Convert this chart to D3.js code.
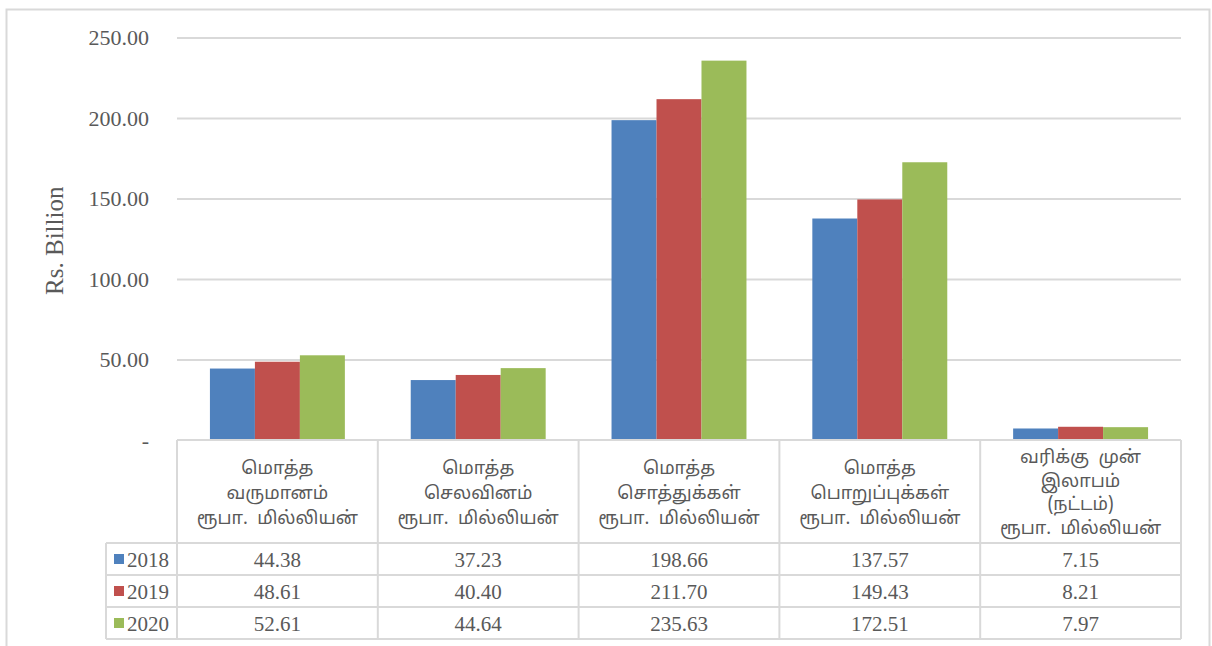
<!DOCTYPE html>
<html>
<head>
<meta charset="utf-8">
<script src="https://cdn.jsdelivr.net/npm/d3@7"></script>
<style>
  html, body { margin: 0; padding: 0; background: #fff; }
  svg { display: block; }
</style>
</head>
<body>
<svg id="chart" width="1212" height="646"></svg>
<script>
// Category labels (multi-line headers of the data table)
const categories = [
  ["மொத்த", "வருமானம்", "ரூபா.  மில்லியன்"],
  ["மொத்த", "செலவினம்", "ரூபா.  மில்லியன்"],
  ["மொத்த", "சொத்துக்கள்", "ரூபா.  மில்லியன்"],
  ["மொத்த", "பொறுப்புக்கள்", "ரூபா.  மில்லியன்"],
  ["வரிக்கு  முன்", "இலாபம்", "(நட்டம்)", "ரூபா.  மில்லியன்"]
];
const years = ["2018", "2019", "2020"];
const values2018 = [44.38, 37.23, 198.66, 137.57, 7.15];
const values2019 = [48.61, 40.40, 211.70, 149.43, 8.21];
const values2020 = [52.61, 44.64, 235.63, 172.51, 7.97];
const yTicks = [0, 50, 100, 150, 200, 250];
const yTitle = "Rs. Billion";

const seriesValues = [values2018, values2019, values2020];
const colors = ["#4F81BD", "#C0504D", "#9BBB59"];
const textColor = "#595959";
const lineColor = "#D9D9D9";
const serif = "'Liberation Serif', 'Times New Roman', serif";
const tamil = "'Noto Sans Tamil', 'Latha', 'Lohit Tamil', 'Noto Sans', sans-serif";

const svg = d3.select("#chart");

// Plot area
const plot = { left: 177, right: 1181, top: 37.5, bottom: 440 };
const tableLeft = 106;
const headerBottom = 543;
const rowH = 32;

// Outer chart frame
svg.append("rect")
  .attr("x", 6.5).attr("y", 9.5)
  .attr("width", 1203).attr("height", 660)
  .attr("fill", "#fff")
  .attr("stroke", lineColor).attr("stroke-width", 2);

const x = d3.scaleBand()
  .domain(d3.range(categories.length))
  .range([plot.left, plot.right])
  .paddingInner(0).paddingOuter(0);

const y = d3.scaleLinear()
  .domain([0, 250])
  .range([plot.bottom, plot.top]);

// Gridlines and tick labels via a left axis
const yAxis = d3.axisLeft(y)
  .tickValues(yTicks)
  .tickSize(-(plot.right - plot.left))
  .tickPadding(28)
  .tickFormat(d => d === 0 ? "-" : d3.format(".2f")(d));

const gAxis = svg.append("g")
  .attr("transform", `translate(${plot.left},0)`)
  .call(yAxis);
gAxis.select(".domain").remove();
gAxis.selectAll(".tick line")
  .attr("stroke", lineColor).attr("stroke-width", 2);
gAxis.selectAll(".tick text")
  .attr("fill", textColor)
  .style("font-family", serif)
  .style("font-size", "22px");
gAxis.selectAll(".tick")
  .filter(d => d === 0)
  .select("line").remove();

// Y axis title
svg.append("text")
  .attr("transform", `translate(63, ${(plot.top + plot.bottom) / 2 + 2}) rotate(-90)`)
  .attr("text-anchor", "middle")
  .attr("fill", textColor)
  .style("font-family", serif)
  .style("font-size", "25px")
  .text(yTitle);

// Bars
const groupW = x.bandwidth() * 0.672;
const xs = d3.scaleBand()
  .domain(d3.range(years.length))
  .range([0, groupW]);

const groups = svg.append("g").selectAll("g")
  .data(categories.map((c, i) => i))
  .join("g")
  .attr("transform", i => `translate(${x(i) + (x.bandwidth() - groupW) / 2},0)`);

groups.selectAll("rect")
  .data(i => seriesValues.map((s, k) => ({ k, v: s[i] })))
  .join("rect")
  .attr("x", d => xs(d.k))
  .attr("width", xs.bandwidth())
  .attr("y", d => y(d.v))
  .attr("height", d => y(0) - y(d.v))
  .attr("fill", d => colors[d.k]);

// Data table
const table = svg.append("g");
const tableBottom = headerBottom + rowH * years.length;

// Axis / header top line
table.append("line")
  .attr("x1", plot.left).attr("x2", plot.right)
  .attr("y1", plot.bottom).attr("y2", plot.bottom)
  .attr("stroke", lineColor).attr("stroke-width", 2);

// Vertical column lines
const colEdges = d3.range(categories.length + 1).map(i =>
  i < categories.length ? x(i) : plot.right);
table.selectAll("line.col")
  .data(colEdges)
  .join("line")
  .attr("class", "col")
  .attr("x1", d => d).attr("x2", d => d)
  .attr("y1", plot.bottom).attr("y2", tableBottom)
  .attr("stroke", lineColor).attr("stroke-width", 2);

// Legend column left edge
table.append("line")
  .attr("x1", tableLeft).attr("x2", tableLeft)
  .attr("y1", headerBottom).attr("y2", tableBottom)
  .attr("stroke", lineColor).attr("stroke-width", 2);

// Horizontal row lines
table.selectAll("line.row")
  .data(d3.range(years.length + 1))
  .join("line")
  .attr("class", "row")
  .attr("x1", tableLeft).attr("x2", plot.right)
  .attr("y1", r => headerBottom + r * rowH)
  .attr("y2", r => headerBottom + r * rowH)
  .attr("stroke", lineColor).attr("stroke-width", 2);

// Header labels
const headerMid = (plot.bottom + headerBottom) / 2;
categories.forEach((lines, i) => {
  const lh = lines.length > 3 ? 23.5 : 25;
  const t = table.append("text")
    .attr("text-anchor", "middle")
    .attr("fill", textColor)
    .style("font-family", tamil)
    .style("font-size", "18px");
  lines.forEach((ln, j) => {
    t.append("tspan")
      .attr("x", x(i) + x.bandwidth() / 2)
      .attr("y", headerMid + (j - (lines.length - 1) / 2) * lh + 7)
      .style("white-space", "pre")
      .text(ln);
  });
});

// Value rows with legend keys
years.forEach((yr, r) => {
  const cy = headerBottom + r * rowH + rowH / 2;
  table.append("rect")
    .attr("x", 114).attr("y", cy - 5)
    .attr("width", 10).attr("height", 10)
    .attr("fill", colors[r]);
  table.append("text")
    .attr("x", 127).attr("y", cy + 7.5)
    .attr("fill", textColor)
    .style("font-family", serif)
    .style("font-size", "21px")
    .text(yr);
  seriesValues[r].forEach((v, i) => {
    table.append("text")
      .attr("x", x(i) + x.bandwidth() / 2)
      .attr("y", cy + 7.5)
      .attr("text-anchor", "middle")
      .attr("fill", textColor)
      .style("font-family", serif)
      .style("font-size", "21px")
      .text(d3.format(".2f")(v));
  });
});
</script>
</body>
</html>
